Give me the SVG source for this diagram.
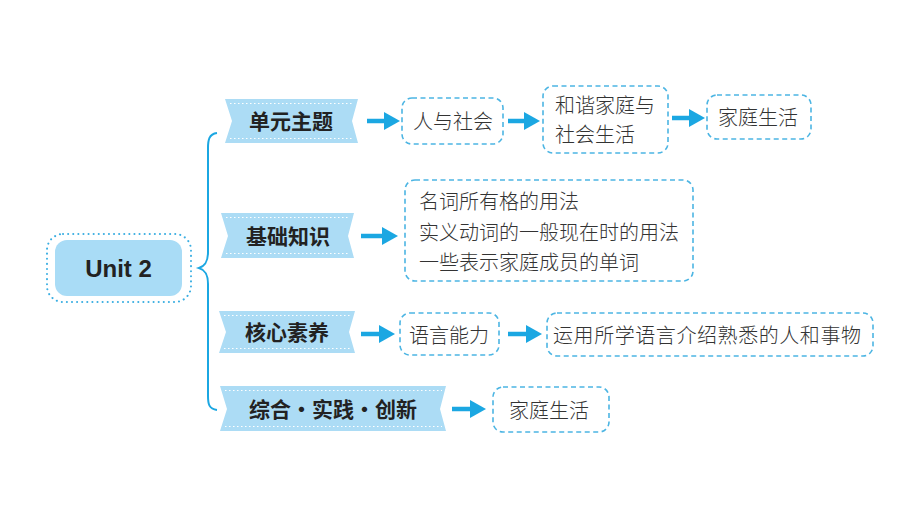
<svg xmlns="http://www.w3.org/2000/svg" width="920" height="518" viewBox="0 0 920 518">
<style>
.rib{fill:#acdcf5}
.stitch{fill:none;stroke:#fff;stroke-width:1.2;stroke-dasharray:1.5 2.5}
.rt{font-family:"Noto Sans CJK SC",sans-serif;font-weight:700;font-size:21px;fill:#222;text-anchor:middle;dominant-baseline:central}
.box{fill:#fff;stroke:#4cb5e3;stroke-width:1.6;stroke-dasharray:5 3.5}
.bt{font-family:"Noto Sans CJK SC",sans-serif;font-weight:300;font-size:20px;fill:#333;dominant-baseline:central}
.conn{stroke:#1ba7e2;stroke-width:4.5;fill:none}
</style>
<defs>
<marker id="ah" markerUnits="userSpaceOnUse" markerWidth="16" markerHeight="18" refX="2" refY="9" orient="auto">
<path d="M0,0 L16,9 L0,18 Z" fill="#1ba7e2"/>
</marker>
</defs>
<rect width="920" height="518" fill="#fff"/>

<g id="root">
<rect x="47" y="234" width="144" height="68" rx="16" fill="none" stroke="#3aaee2" stroke-width="2" stroke-dasharray="0.1 5" stroke-linecap="round"/>
<rect x="55" y="240" width="127" height="56" rx="12" fill="#a9dcf6"/>
<text x="118.5" y="268" font-family="Liberation Sans,Arial,sans-serif" font-weight="700" font-size="24" fill="#222" text-anchor="middle" dominant-baseline="central">Unit 2</text>
</g>

<g id="connectors">
<path d="M217,133 C209,134 208,140 208,148 L208,252 C208,262 205,266 199,268 C205,270 208,274 208,284 L208,396 C208,404 209,409 217,410" fill="none" stroke="#1ba7e2" stroke-width="2"/>
<line class="conn" x1="367" y1="121" x2="386" y2="121" marker-end="url(#ah)"/>
<line class="conn" x1="508" y1="121" x2="526" y2="121" marker-end="url(#ah)"/>
<line class="conn" x1="672" y1="118" x2="691" y2="118" marker-end="url(#ah)"/>
<line class="conn" x1="361" y1="236" x2="384" y2="236" marker-end="url(#ah)"/>
<line class="conn" x1="361" y1="334" x2="381" y2="334" marker-end="url(#ah)"/>
<line class="conn" x1="508" y1="334" x2="528" y2="334" marker-end="url(#ah)"/>
<line class="conn" x1="452" y1="409" x2="472" y2="409" marker-end="url(#ah)"/>
</g>

<g id="n1">
<path class="rib" d="M225,99 L358,99 L352,121 L358,143 L225,143 L232,121 Z"/>
<path class="stitch" d="M230,103.5 H354 M230,138.5 H354"/>
<text class="rt" x="291" y="120">单元主题</text>
</g>
<g id="n2">
<path class="rib" d="M221,213 L354,213 L348,236 L354,258 L221,258 L228,236 Z"/>
<path class="stitch" d="M226,217.5 H350 M226,253.5 H350"/>
<text class="rt" x="288" y="235">基础知识</text>
</g>
<g id="n3">
<path class="rib" d="M219,311 L355,311 L349,332 L355,353 L219,353 L226,332 Z"/>
<path class="stitch" d="M224,315.5 H351 M224,348.5 H351"/>
<text class="rt" x="287" y="331">核心素养</text>
</g>
<g id="n4">
<path class="rib" d="M220,386 L446,386 L440,409 L446,431 L220,431 L227,409 Z"/>
<path class="stitch" d="M225,390.5 H442 M225,426.5 H442"/>
<text class="rt" x="333" y="408">综合・实践・创新</text>
</g>

<g id="b1">
<rect class="box" x="402" y="98" width="101" height="46" rx="10"/>
<text class="bt" x="413" y="120">人与社会</text>
</g>
<g id="b2">
<rect class="box" x="543" y="86" width="125" height="67" rx="10"/>
<text class="bt" x="555" y="104">和谐家庭与</text>
<text class="bt" x="555" y="133">社会生活</text>
</g>
<g id="b3">
<rect class="box" x="707" y="95" width="104" height="44" rx="10"/>
<text class="bt" x="718" y="116">家庭生活</text>
</g>
<g id="b4">
<rect class="box" x="405" y="180" width="288" height="101" rx="10"/>
<text class="bt" x="419" y="200">名词所有格的用法</text>
<text class="bt" x="419" y="231">实义动词的一般现在时的用法</text>
<text class="bt" x="419" y="261">一些表示家庭成员的单词</text>
</g>
<g id="b5">
<rect class="box" x="400" y="313" width="99" height="42" rx="10"/>
<text class="bt" x="409" y="334">语言能力</text>
</g>
<g id="b6">
<rect class="box" x="547" y="313" width="326" height="43" rx="10"/>
<text class="bt" x="553" y="334" textLength="308" lengthAdjust="spacing">运用所学语言介绍熟悉的人和事物</text>
</g>
<g id="b7">
<rect class="box" x="493" y="387" width="116" height="45" rx="10"/>
<text class="bt" x="509" y="409">家庭生活</text>
</g>
</svg>
